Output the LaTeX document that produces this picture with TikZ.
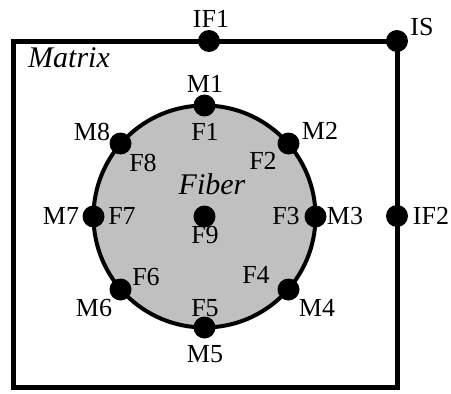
\documentclass[tikz,border=0pt]{standalone}
\usepackage{fontspec}
\setmainfont{Liberation Serif}
\usetikzlibrary{calc}
\newcommand{\lblfont}{\fontsize{26pt}{30pt}\selectfont\rmfamily}
\newcommand{\regionfont}{\fontsize{30pt}{34pt}\selectfont\rmfamily\itshape}
\begin{document}
\begin{tikzpicture}[x=1pt,y=-1pt,
  joint/.style={circle, fill=black, minimum size=22pt, inner sep=0pt},
  lbl/.style={anchor=center, inner sep=0pt, font=\lblfont},
  region/.style={anchor=center, inner sep=0pt, font=\regionfont}]
\useasboundingbox (0,0) rectangle (451,394);

% matrix boundary
\coordinate (TL) at (13,41);
\coordinate (BL) at (13,387);
\coordinate (BR) at (397,387);
\coordinate (TR) at (397,41);
\draw[line width=5pt, line join=miter] (TL) -- (TR) -- (BR) -- (BL) -- cycle;

% fiber
\coordinate (C) at (204.5,216.5);
\draw[line width=4pt, fill={rgb,255:red,192;green,192;blue,192}] (C) circle[radius=111];

% interface points on the matrix
\node[joint] (IF1) at (209,41) {};
\node[joint] (IS) at (397,41) {};
\node[joint] (IF2) at (397,216) {};
\node[lbl] at (211,19) {IF1};
\node[lbl] at (422,27) {IS};
\node[lbl] at (431,216) {IF2};

% points on the fiber boundary
\node[joint] (M1) at ($(C)+(0,-111)$) {};
\node[joint] (M2) at ($(C)+(84,-73)$) {};
\node[joint] (M3) at ($(C)+(111,0)$) {};
\node[joint] (M4) at ($(C)+(84,73)$) {};
\node[joint] (M5) at ($(C)+(0,111)$) {};
\node[joint] (M6) at ($(C)+(-84,73)$) {};
\node[joint] (M7) at ($(C)+(-111,0)$) {};
\node[joint] (M8) at ($(C)+(-84,-73)$) {};
\node[joint] (F9) at (C) {};

\node[lbl] at (205,84) {M1};
\node[lbl] at (320,131) {M2};
\node[lbl] at (345,216) {M3};
\node[lbl] at (317,308) {M4};
\node[lbl] at (205,354) {M5};
\node[lbl] at (94,308) {M6};
\node[lbl] at (61,216) {M7};
\node[lbl] at (92,132) {M8};

\node[lbl] at (205,132) {F1};
\node[lbl] at (263,161) {F2};
\node[lbl] at (286,216) {F3};
\node[lbl] at (256,275) {F4};
\node[lbl] at (205,308) {F5};
\node[lbl] at (146,277) {F6};
\node[lbl] at (122,216) {F7};
\node[lbl] at (143,163) {F8};
\node[lbl] at (205,235) {F9};

\node[region] at (69,58) {Matrix};
\node[region] at (212,184) {Fiber};
\end{tikzpicture}
\end{document}
